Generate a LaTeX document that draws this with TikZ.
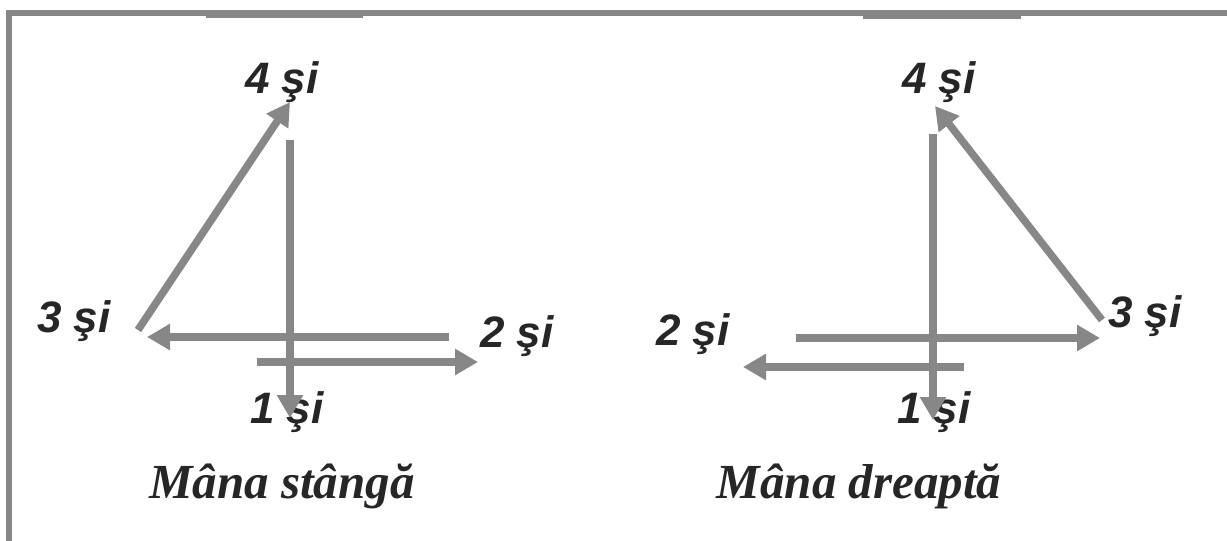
\documentclass[tikz,border=0pt]{standalone}
\usepackage{fontspec}
\setmainfont{Liberation Serif}
\newfontfamily\lblfont{Liberation Sans}
\usetikzlibrary{arrows.meta}
\definecolor{hgray}{HTML}{878787}
\definecolor{htext}{HTML}{262626}

\begin{document}
\begin{tikzpicture}[x=1pt, y=-1pt,
  beat/.style={draw=hgray, line width=7.5pt, -{Triangle[length=23pt, width=25pt]}},
  count/.style={anchor=base west, inner sep=0pt, text=htext, font=\lblfont\bfseries\itshape\fontsize{44}{46}\selectfont},
  hand/.style={anchor=base, inner sep=0pt, text=htext, font=\bfseries\itshape\fontsize{49}{52}\selectfont}]
  \useasboundingbox (0,0) rectangle (1227,541);
  % frame
  \draw[hgray, line width=6pt] (9,541) -- (9,13) -- (1227,13);
  \fill[hgray] (206,10) rectangle (363,18);
  \fill[hgray] (863,10) rectangle (1021,19);

  % left hand
  \node[count] (l4) at (245,93) {4 şi};
  \node[count] (l3) at (37,332) {3 şi};
  \node[count] (l2) at (480,347) {2 şi};
  \node[count] (l1) at (250,423) {1 şi};
  \node[hand] (lhand) at (282,498) {Mâna stângă};
  \coordinate (la1) at (290,140);  \coordinate (lb1) at (290,418);
  \coordinate (la2) at (449,337);  \coordinate (lb2) at (147,337);
  \coordinate (la3) at (138,330);  \coordinate (lb3) at (290,102);
  \coordinate (la4) at (257,362);  \coordinate (lb4) at (478,362);
  \draw[beat] (la1) -- (lb1);
  \draw[beat] (la2) -- (lb2);
  \draw[beat] (la3) -- (lb3);
  \draw[beat] (la4) -- (lb4);

  % right hand
  \node[count] (r4) at (902,93) {4 şi};
  \node[count] (r3) at (1108,327) {3 şi};
  \node[count] (r2) at (656,345) {2 şi};
  \node[count] (r1) at (897,423) {1 şi};
  \node[hand] (rhand) at (859,498) {Mâna dreaptă};
  \coordinate (ra1) at (933,134);  \coordinate (rb1) at (933,420);
  \coordinate (ra2) at (796,338);  \coordinate (rb2) at (1100,338);
  \coordinate (ra3) at (1102,320); \coordinate (rb3) at (935,106);
  \coordinate (ra4) at (964,367);  \coordinate (rb4) at (743,367);
  \draw[beat] (ra1) -- (rb1);
  \draw[beat] (ra2) -- (rb2);
  \draw[beat] (ra3) -- (rb3);
  \draw[beat] (ra4) -- (rb4);
\end{tikzpicture}
\end{document}
